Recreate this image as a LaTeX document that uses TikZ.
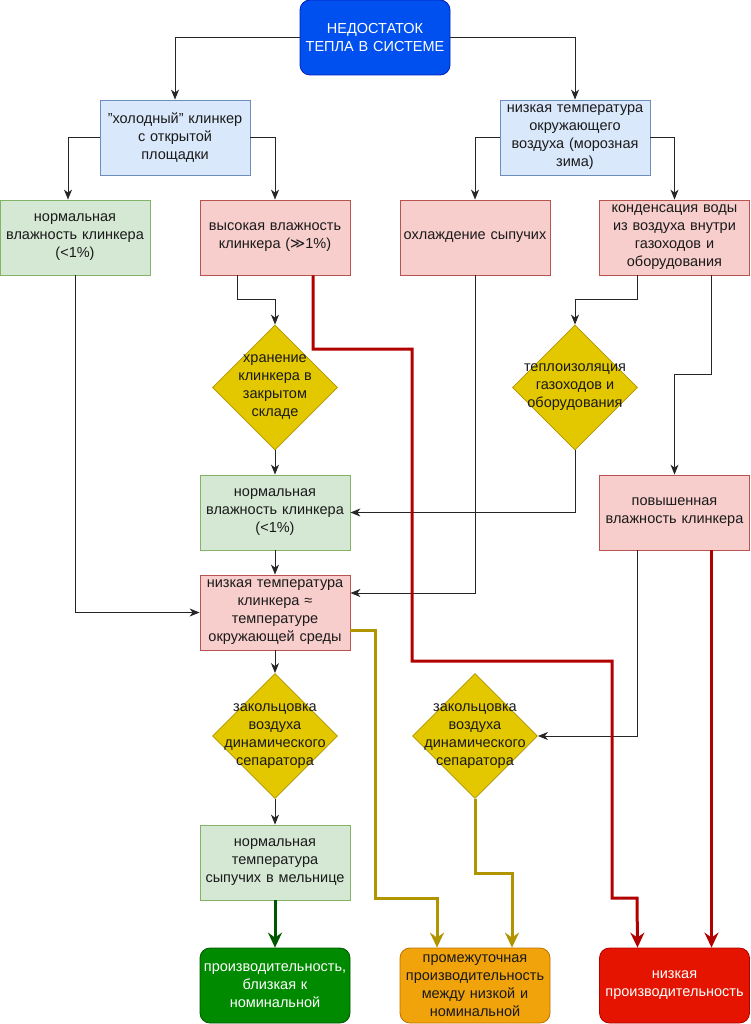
\documentclass[tikz,border=0pt]{standalone}
\usepackage{fontspec}
\setmainfont{Liberation Sans}
\newfontfamily\djv{DejaVu Sans}
\usetikzlibrary{shapes.geometric,arrows.meta,calc}
\definecolor{bluefill}{HTML}{0050EF}\definecolor{blueline}{HTML}{001DBC}
\definecolor{lbfill}{HTML}{DAE8FC}\definecolor{lbline}{HTML}{6C8EBF}
\definecolor{gfill}{HTML}{D5E8D4}\definecolor{gline}{HTML}{82B366}
\definecolor{rfill}{HTML}{F8CECC}\definecolor{rline}{HTML}{B85450}
\definecolor{yfill}{HTML}{E3C800}\definecolor{yline}{HTML}{B09500}
\definecolor{dgfill}{HTML}{008A00}\definecolor{dgline}{HTML}{005700}
\definecolor{ofill}{HTML}{F0A30A}\definecolor{oline}{HTML}{BD7000}
\definecolor{drfill}{HTML}{E51400}\definecolor{drline}{HTML}{B20000}
\definecolor{olivel}{HTML}{B09500}
\definecolor{txt}{HTML}{1A1A1A}
\newcommand{\fsz}{\fontsize{14.5}{18}\selectfont}
\tikzset{
  box/.style={draw, line width=0.8pt, minimum width=150pt, minimum height=75pt,
    inner sep=1pt, text width=148pt, align=center, font=\fsz, text=txt},
  bluebox/.style={box, fill=lbfill, draw=lbline},
  greenbox/.style={box, fill=gfill, draw=gline},
  redbox/.style={box, fill=rfill, draw=rline},
  endbox/.style={box, rounded corners=10pt},
  dia/.style={draw=yline, fill=yfill, line width=0.8pt, shape=diamond, aspect=1,
    minimum width=125pt, minimum height=125pt, inner sep=0pt},
  diatext/.style={align=center, font=\fsz, text=txt, inner sep=0pt},
  arr/.style={draw=black!85, line width=1pt, -{Stealth[length=10pt,width=8pt,inset=3pt]}},
  thick arr/.style={line width=3pt, -{Stealth[length=15pt,width=14pt,inset=5pt]}},
}
\begin{document}
\begin{tikzpicture}[x=1pt,y=-1pt]
\useasboundingbox (0,0) rectangle (750,1024);
% nodes
\node[box, fill=bluefill, draw=blueline, rounded corners=10pt, text=white] (top) at (375,37.5) {НЕДОСТАТОК\\ТЕПЛА В СИСТЕМЕ};
\node[bluebox] (cold) at (175,137.5) {"холодный" клинкер\\с открытой\\площадки};
\node[bluebox] (air) at (575,137.5) {низкая температура\\окружающего\\воздуха (морозная\\зима)};
\node[greenbox] (nl) at (75,237.5) {нормальная\\влажность клинкера\\(<1\%)};
\node[redbox] (hv) at (275,237.5) {высокая влажность\\клинкера ({\djv ≫}1\%)};
\node[redbox] (ox) at (475,237.5) {охлаждение сыпучих};
\node[redbox] (kd) at (674.5,237.5) {конденсация воды\\из воздуха внутри\\газоходов и\\оборудования};
\node[dia] (d1) at (275,387.5) {};
\node[diatext] (d1t) at (d1) {хранение\\клинкера в\\закрытом\\складе};
\node[dia] (d2) at (575,387.5) {};
\node[diatext] (d2t) at (d2) {теплоизоляция\\газоходов и\\оборудования};
\node[greenbox] (nm) at (275,512.5) {нормальная\\влажность клинкера\\(<1\%)};
\node[redbox] (pv) at (674.5,512.5) {повышенная\\влажность клинкера};
\node[redbox] (ltc) at (275,612.5) {низкая температура\\клинкера ≈\\температуре\\окружающей среды};
\node[dia] (d3) at (275,736) {};
\node[diatext] (d3t) at (d3) {закольцовка\\воздуха\\динамического\\сепаратора};
\node[dia] (d4) at (475,736) {};
\node[diatext] (d4t) at (d4) {закольцовка\\воздуха\\динамического\\сепаратора};
\node[greenbox] (nt) at (275,862.5) {нормальная\\температура\\сыпучих в мельнице};
\node[endbox, fill=dgfill, draw=dgline, text=white] (gp) at (275,985.5) {производительность,\\близкая к\\номинальной};
\node[endbox, fill=ofill, draw=oline] (mp) at (475,985.5) {промежуточная\\производительность\\между низкой и\\номинальной};
\node[endbox, fill=drfill, draw=drline, text=white] (lp) at (674.5,985.5) {низкая\\производительность};
% thin connectors
\draw[arr] (top.west) -| (cold.north);
\draw[arr] (top.east) -| (air.north);
\draw[arr] (cold.west) -| ([xshift=-7pt]nl.north);
\draw[arr] (cold.east) -| (hv.north);
\draw[arr] (air.west) -| (ox.north);
\draw[arr] (air.east) -| (kd.north);
\draw[arr] ([xshift=-38pt]hv.south) -- ++(0,24) -| (d1.north);
\draw[arr] (d1.south) -- (nm.north);
\draw[arr] ([xshift=-37pt]kd.south) -- ++(0,24) -| (d2.north);
\draw[arr] ([xshift=37pt]kd.south) -- ++(0,99) -| (pv.north);
\draw[arr] (d2.south) |- (nm.east);
\draw[arr] (nm.south) -- (ltc.north);
\draw[arr] (nl.south) |- (ltc.west);
\draw[arr] (ox.south) |- ([yshift=19.5pt]ltc.east);
\draw[arr] (ltc.south) -- (d3.north);
\draw[arr] (d3.south) -- (nt.north);
\draw[arr] ([xshift=-37pt]pv.south) |- (d4.east);
% thick connectors
\draw[thick arr, color=drline] ([xshift=38pt]hv.south) |- (412,349) |- (612,661) |- (637,898) -- ([xshift=-37pt]lp.north);
\draw[thick arr, color=drline] ([xshift=37pt]pv.south) -- ([xshift=37pt]lp.north);
\draw[thick arr, color=olivel] ([yshift=-17.5pt]ltc.east) -| (375,898) -| ([xshift=-38pt]mp.north);
\draw[thick arr, color=olivel] (d4.south) -- ++(0,75) -| ([xshift=37pt]mp.north);
\draw[thick arr, color=dgline] (nt.south) -- (gp.north);
\end{tikzpicture}
\end{document}
